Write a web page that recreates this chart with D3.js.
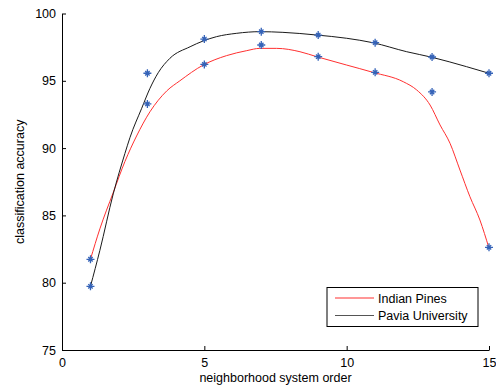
<!DOCTYPE html>
<html>
<head>
<meta charset="utf-8">
<script src="https://cdn.jsdelivr.net/npm/d3@7"></script>
<style>
  body { margin: 0; background: #fff; }
  svg text { font-family: "Liberation Sans", Arial, sans-serif; fill: #000; }
</style>
</head>
<body>
<svg id="chart"></svg>
<script>
// measured points (stars), x = neighborhood system order
const orders = [1, 3, 5, 7, 9, 11, 13, 15];
const paviaPoints = [79.73, 95.56, 98.1, 98.65, 98.4, 97.83, 96.77, 95.56];
const indianPoints = [81.74, 93.28, 96.22, 97.66, 96.79, 95.63, 94.17, 82.63];

// fitted curves
const paviaCurveX = [1, 1.33, 1.8, 2.21, 2.39, 2.8, 3.09, 3.38, 3.79, 4.5, 4.96, 5.43, 6.14, 6.95, 7.76, 8.95, 10, 10.92, 12.11, 12.99, 14.21, 15];
const paviaCurveY = [79.73, 82.4, 86.6, 89.6, 90.8, 92.96, 94.44, 95.6, 96.67, 97.53, 97.96, 98.28, 98.53, 98.65, 98.6, 98.4, 98.16, 97.83, 97.16, 96.75, 96.05, 95.56];
const indianCurveX = [1, 1.33, 1.8, 2.21, 2.62, 3.09, 3.38, 3.68, 4.14, 4.96, 5.78, 6.49, 6.95, 7.54, 8.36, 8.95, 10, 10.92, 11.99, 12.46, 12.93, 13.28, 13.63, 13.98, 14.33, 14.68, 15];
const indianCurveY = [81.74, 84.0, 86.7, 89.0, 90.9, 92.7, 93.55, 94.25, 95.0, 96.17, 96.87, 97.24, 97.41, 97.41, 97.16, 96.79, 96.17, 95.63, 94.93, 94.32, 93.2, 91.72, 90.36, 88.37, 86.39, 84.66, 82.56];

const xTicks = [0, 5, 10, 15];
const yTicks = [75, 80, 85, 90, 95, 100];
const seriesNames = ['Indian Pines', 'Pavia University'];

class AccuracyChart {
    constructor(_config) {
        this.config = {
            parentElement: _config.parentElement,
            containerWidth: _config.containerWidth || 496,
            containerHeight: _config.containerHeight || 387,
            margin: {top: 13.5, right: 6, bottom: 37, left: 62}
        };
        this.initVis();
    }

    initVis() {
        let vis = this;
        vis.width = vis.config.containerWidth - vis.config.margin.left - vis.config.margin.right;
        vis.height = vis.config.containerHeight - vis.config.margin.top - vis.config.margin.bottom;

        vis.svg = d3.select(vis.config.parentElement)
            .attr('width', vis.config.containerWidth)
            .attr('height', vis.config.containerHeight);

        vis.chart = vis.svg.append('g')
            .attr('transform', `translate(${vis.config.margin.left}, ${vis.config.margin.top})`);

        vis.xScale = d3.scaleLinear().domain([0, 15]).range([0, 427]);
        vis.yScale = d3.scaleLinear().domain([75, 100]).range([vis.height, 0]);

        vis.renderVis();
    }

    renderVis() {
        let vis = this;

        // axes, matlab style ticks pointing inward
        vis.xAxisGroup = vis.chart.append('g')
            .attr('transform', `translate(0,${vis.height})`)
            .call(d3.axisBottom(vis.xScale).tickValues(xTicks).tickSizeInner(-4).tickSizeOuter(0).tickPadding(8));
        vis.yAxisGroup = vis.chart.append('g')
            .call(d3.axisLeft(vis.yScale).tickValues(yTicks).tickSizeInner(-4).tickSizeOuter(0).tickPadding(6));

        vis.chart.selectAll('.domain').attr('stroke', '#000');
        vis.chart.selectAll('.tick line').attr('stroke', '#000');
        vis.chart.selectAll('.tick text').style('font-size', '12.5px');

        vis.chart.append('text')
            .attr('text-anchor', 'middle')
            .attr('x', vis.xScale(7.5))
            .attr('y', vis.height + 32)
            .style('font-size', '12.5px')
            .text('neighborhood system order');

        vis.chart.append('text')
            .attr('text-anchor', 'middle')
            .attr('transform', `translate(${-38},${vis.height / 2}) rotate(-90)`)
            .style('font-size', '12.5px')
            .text('classification accuracy');

        const line = d3.line()
            .x(d => vis.xScale(d[0]))
            .y(d => vis.yScale(d[1]))
            .curve(d3.curveMonotoneX);

        vis.chart.append('path')
            .datum(indianCurveX.map((x, i) => [x, indianCurveY[i]]))
            .attr('fill', 'none')
            .attr('stroke', '#ff3030')
            .attr('stroke-width', 1)
            .attr('d', line);

        vis.chart.append('path')
            .datum(paviaCurveX.map((x, i) => [x, paviaCurveY[i]]))
            .attr('fill', 'none')
            .attr('stroke', '#1a1a1a')
            .attr('stroke-width', 1)
            .attr('d', line);

        // star markers (+ and x)
        const star = 'M-4,0L4,0M0,-4L0,4M-2.2,-2.2L2.2,2.2M-2.2,2.2L2.2,-2.2';
        const points = orders.map((x, i) => [x, paviaPoints[i]])
            .concat(orders.map((x, i) => [x, indianPoints[i]]));

        vis.chart.selectAll('.star')
            .data(points)
            .join('path')
            .attr('class', 'star')
            .attr('transform', d => `translate(${vis.xScale(d[0])},${vis.yScale(d[1])})`)
            .attr('d', star)
            .attr('stroke', '#3563b8')
            .attr('stroke-width', 1.3)
            .attr('fill', 'none');

        // legend
        const legend = vis.svg.append('g').attr('transform', 'translate(327,287.5)');
        legend.append('rect')
            .attr('width', 151)
            .attr('height', 39)
            .attr('fill', '#fff')
            .attr('stroke', '#000')
            .attr('stroke-width', 1);
        const colors = ['#ff3030', '#555'];
        seriesNames.forEach((name, i) => {
            legend.append('line')
                .attr('x1', 8).attr('x2', 47)
                .attr('y1', 10.5 + i * 17.5).attr('y2', 10.5 + i * 17.5)
                .attr('stroke', colors[i])
                .attr('stroke-width', 1.2);
            legend.append('text')
                .attr('x', 51)
                .attr('y', 15 + i * 17.5)
                .style('font-size', '12.5px')
                .text(name);
        });
    }
}

new AccuracyChart({parentElement: '#chart'});
</script>
</body>
</html>
